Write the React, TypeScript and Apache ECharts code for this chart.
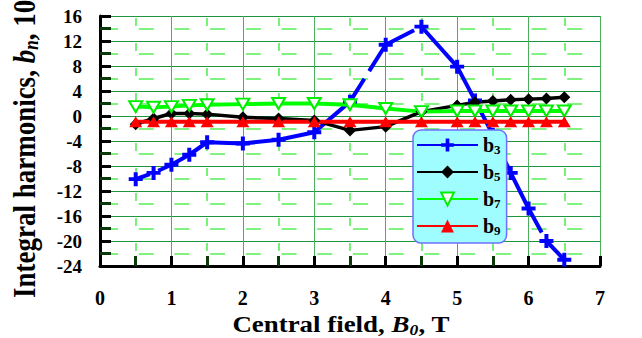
import React, { useEffect, useRef } from "react";
import * as echarts from "echarts";

const fieldValues = [0.5, 0.75, 1, 1.25, 1.5, 2, 2.5, 3, 3.5, 4, 4.5, 5, 5.25, 5.5, 5.75, 6, 6.25, 6.5];
const b3Values = [-10.1, -9.1, -7.8, -6.2, -4.2, -4.4, -3.8, -2.6, 2.3, 11.4, 14.3, 7.9, 2.5, -3.0, -9.1, -14.8, -20.0, -23.0];
const b5Values = [-1.3, -0.4, 0.4, 0.4, 0.3, -0.2, -0.4, -0.7, -2.3, -1.7, 0.7, 1.7, 2.2, 2.4, 2.6, 2.7, 2.8, 3.0];
const b7Values = [1.5, 1.4, 1.5, 1.7, 1.8, 1.9, 2.0, 2.0, 1.8, 1.2, 0.7, 0.8, 0.8, 0.8, 0.8, 0.8, 0.8, 0.8];
const b9Values = [-0.9, -0.9, -0.9, -0.9, -0.9, -0.9, -0.9, -0.9, -0.9, -0.9, -0.9, -0.9, -0.9, -0.9, -0.9, -0.9, -0.9, -0.9];
const seriesNames = ["b3", "b5", "b7", "b9"];
const xTicks = { min: 0, max: 7, interval: 1 };
const yTicks = { min: -24, max: 16, interval: 4 };

const FONT = "Liberation Serif";
const PLUS = "path://M5,0H9V5H14V9H9V14H5V9H0V5H5Z";

const pairs = (vals: number[]) => fieldValues.map((x, i) => [x, vals[i]]);

export default function App() {
  const ref = useRef<HTMLDivElement>(null);
  useEffect(() => {
    if (!ref.current) return;
    const chart = echarts.init(ref.current, null, { renderer: "svg" });
    const labelStyle = { color: "#000", fontFamily: FONT, fontWeight: "bold" };
    const yTitle = { fontFamily: FONT, fontWeight: "bold", fontSize: 27, fill: "#000", lineHeight: 30 };
    const xTitle = { fontFamily: FONT, fontWeight: "bold", fontSize: 23, fill: "#000", lineHeight: 27 };
    chart.setOption({
      animation: false,
      backgroundColor: "#fff",
      grid: { left: 100, right: 42, top: 16, bottom: 72, containLabel: false },
      xAxis: {
        type: "value",
        min: xTicks.min,
        max: xTicks.max,
        interval: xTicks.interval,
        axisLine: { show: true, onZero: false, lineStyle: { color: "#000", width: 3 } },
        axisTick: { show: true, inside: true, length: 10, lineStyle: { color: "#000", width: 3 } },
        minorTick: { show: true, splitNumber: 2, length: 10, lineStyle: { color: "#0a3a0a", width: 3 } },
        splitLine: { show: true, lineStyle: { color: "#4aae5a", width: 1 } },
        minorSplitLine: { show: true, lineStyle: { color: "#55ee55", width: 1.6, type: [8, 17], dashOffset: -2 } },
        axisLabel: { ...labelStyle, fontSize: 20, margin: 22 },
      },
      yAxis: {
        type: "value",
        min: yTicks.min,
        max: yTicks.max,
        interval: yTicks.interval,
        axisLine: { show: true, onZero: false, lineStyle: { color: "#000", width: 3 } },
        axisTick: { show: true, inside: true, length: 11, lineStyle: { color: "#000", width: 3 } },
        minorTick: { show: true, splitNumber: 2, length: 11, lineStyle: { color: "#0a3a0a", width: 3 } },
        splitLine: { show: true, lineStyle: { color: "#1f9540", width: 1 } },
        minorSplitLine: { show: true, lineStyle: { color: "#55ee55", width: 1.6, type: [15, 20.71], dashOffset: -3 } },
        axisLabel: { ...labelStyle, fontSize: 19, margin: 18 },
      },
      legend: {
        show: true,
        orient: "vertical",
        left: 413,
        top: 130,
        padding: [5, 6, 6, 3],
        itemGap: 6,
        itemWidth: 61,
        itemHeight: 16,
        backgroundColor: "#9ffcff",
        borderColor: "#6f6fff",
        borderWidth: 1.5,
        borderRadius: 8,
        lineStyle: { type: "solid" },
        data: seriesNames,
        formatter: (name: string) => `{b|b}{s|${name.slice(1)}}`,
        textStyle: {
          rich: {
            b: { fontFamily: FONT, fontWeight: "bold", fontSize: 20, color: "#000", lineHeight: 20 },
            s: { fontFamily: FONT, fontWeight: "bold", fontSize: 13, color: "#000", padding: [9, 0, 0, 0] },
          },
        },
      },
      graphic: [
        {
          type: "text",
          x: 24,
          y: 298,
          rotation: Math.PI / 2,
          scaleY: 1.18,
          style: {
            text: "{a|Integral harmonics, }{i|b}{s|n}{a|, 10}{p|-4}",
            align: "left",
            verticalAlign: "middle",
            rich: {
              a: yTitle,
              i: { ...yTitle, fontStyle: "italic" },
              s: { fontFamily: FONT, fontWeight: "bold", fontStyle: "italic", fontSize: 17, fill: "#000", padding: [12, 0, 0, 0] },
              p: { fontFamily: FONT, fontWeight: "bold", fontSize: 17, fill: "#000", padding: [0, 0, 12, 0] },
            },
          },
        },
        {
          type: "text",
          x: 341,
          y: 324,
          scaleX: 1.17,
          style: {
            text: "{a|Central field, }{i|B}{s|0}{a|, T}",
            align: "center",
            verticalAlign: "middle",
            rich: {
              a: xTitle,
              i: { ...xTitle, fontStyle: "italic" },
              s: { fontFamily: FONT, fontWeight: "bold", fontStyle: "italic", fontSize: 15, fill: "#000", padding: [11, 0, 0, 0] },
            },
          },
        },
      ],
      series: [
        {
          name: seriesNames[0],
          type: "line",
          data: pairs(b3Values),
          symbol: PLUS,
          symbolSize: 14,
          showAllSymbol: true,
          itemStyle: { color: "#0000ff" },
          lineStyle: { color: "#0000ff", width: 4, type: [239, 9, 63, 9], dashOffset: -24 },
        },
        {
          name: seriesNames[1],
          type: "line",
          data: pairs(b5Values),
          symbol: "diamond",
          symbolSize: 12,
          showAllSymbol: true,
          itemStyle: { color: "#000" },
          lineStyle: { color: "#000", width: 3.5 },
        },
        {
          name: seriesNames[2],
          type: "line",
          data: pairs(b7Values),
          symbol: "triangle",
          symbolRotate: 180,
          symbolSize: [13, 11],
          showAllSymbol: true,
          itemStyle: { color: "#ffffff", borderColor: "#00ee00", borderWidth: 2 },
          lineStyle: { color: "#00ff00", width: 4 },
        },
        {
          name: seriesNames[3],
          type: "line",
          data: pairs(b9Values),
          symbol: "triangle",
          symbolSize: [13, 11],
          showAllSymbol: true,
          itemStyle: { color: "#ff0000" },
          lineStyle: { color: "#ff0000", width: 4 },
        },
      ],
    });
    return () => chart.dispose();
  }, []);
  return (
    <div
      ref={ref}
      style={{ position: "fixed", left: 0, top: 0, width: 642, height: 338 }}
    />
  );
}
